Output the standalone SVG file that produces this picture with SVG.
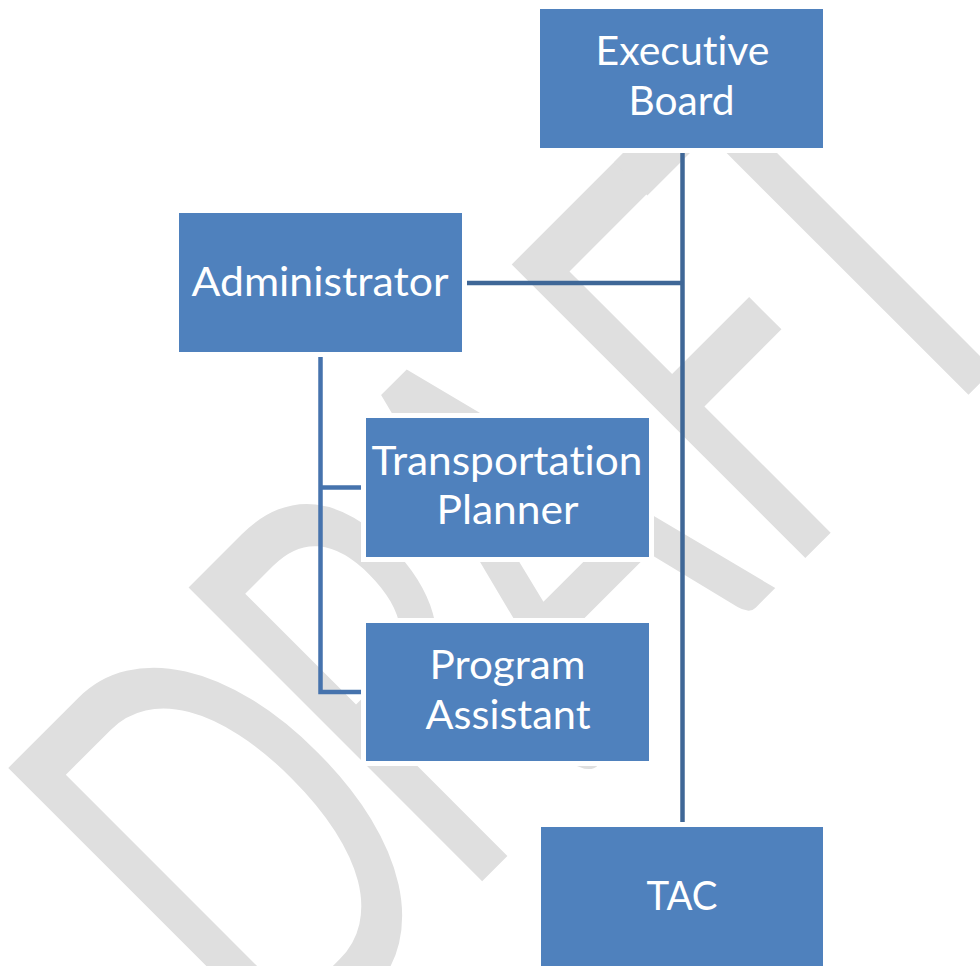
<svg xmlns="http://www.w3.org/2000/svg" width="980" height="966" viewBox="0 0 980 966">
  <style>
    .box { fill: #4f81bd; stroke: #ffffff; stroke-width: 10; paint-order: stroke; }
    .lbl { font-family: Lato, "Open Sans", "Liberation Sans", sans-serif; font-size: 40px; fill: #ffffff; font-variant-ligatures: none; font-feature-settings: "liga" 0, "clig" 0; }
    .wm { font-family: Lato, "Open Sans", "Liberation Sans", sans-serif; font-size: 370px; fill: #dfdfdf; }
    .ce { fill: none; stroke: #3f6797; stroke-width: 4.5; }
    .ca { fill: none; stroke: #4673ad; stroke-width: 4.5; }
  </style>
  <defs>
    <clipPath id="wmclip">
      <rect x="0" y="152" width="980" height="814"/>
    </clipPath>
  </defs>
  <rect x="0" y="0" width="980" height="966" fill="#ffffff"/>

  <g id="watermark" clip-path="url(#wmclip)">
    <text class="wm" transform="rotate(-45) translate(0,964) scale(1,1.566)" x="-571 -316 -117 141 314" y="0">DRAFT</text>
  </g>

  <g id="connectors">
    <path class="ce" d="M682.5 153 V822"/>
    <path class="ce" d="M467 283 H682.5"/>
    <path class="ca" d="M320.5 357 V692 H361"/>
    <path class="ca" d="M320.5 487.5 H361"/>
  </g>

  <g id="executive-board">
    <rect class="box" x="540" y="9" width="283" height="139"/>
    <text class="lbl" x="595.5" y="65" textLength="174" lengthAdjust="spacingAndGlyphs">Executive</text>
    <text class="lbl" x="628.5" y="115" textLength="106" lengthAdjust="spacingAndGlyphs">Board</text>
  </g>

  <g id="administrator">
    <rect class="box" x="179" y="213" width="283" height="139"/>
    <text class="lbl" x="191.5" y="296" textLength="257" lengthAdjust="spacingAndGlyphs">Administrator</text>
  </g>

  <g id="transportation-planner">
    <rect class="box" x="366" y="418" width="283" height="139"/>
    <text class="lbl" x="371.5" y="475" textLength="271" lengthAdjust="spacingAndGlyphs">Transportation</text>
    <text class="lbl" x="436.5" y="524" textLength="142" lengthAdjust="spacingAndGlyphs">Planner</text>
  </g>

  <g id="program-assistant">
    <rect class="box" x="366" y="623" width="283" height="138"/>
    <text class="lbl" x="429.5" y="679" textLength="156" lengthAdjust="spacingAndGlyphs">Program</text>
    <text class="lbl" x="425.5" y="729" textLength="165" lengthAdjust="spacingAndGlyphs">Assistant</text>
  </g>

  <g id="tac">
    <rect class="box" x="541" y="827" width="282" height="150"/>
    <text class="lbl" x="646.5" y="910" textLength="71" lengthAdjust="spacingAndGlyphs">TAC</text>
  </g>
</svg>
